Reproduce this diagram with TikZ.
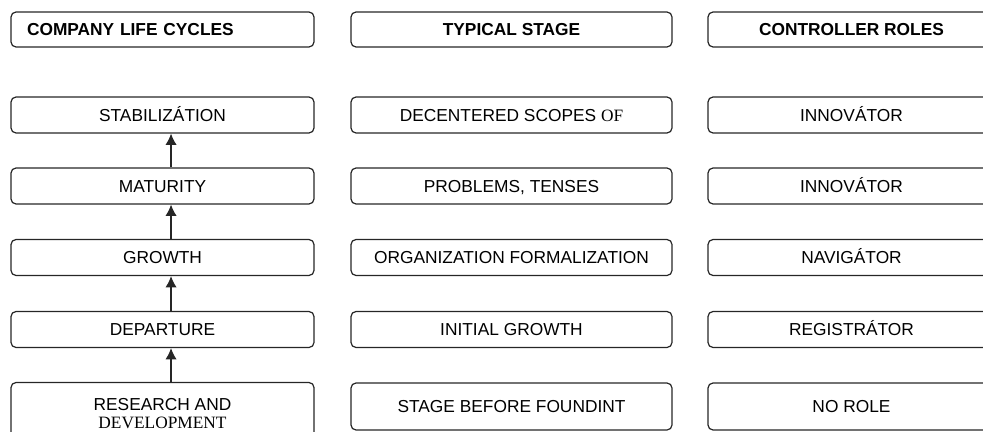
\documentclass[tikz,border=0pt]{standalone}
\usepackage{fontspec}
\setmainfont{Liberation Sans}
\newfontfamily\timesfont{Liberation Serif}
\usetikzlibrary{positioning, arrows.meta}

\begin{document}
\begin{tikzpicture}[x=0.75pt, y=-0.75pt,
  box/.style={draw=black!85, line width=0.9pt, rounded corners=3.75pt,
    minimum height=27pt, inner sep=0pt, align=center,
    text height=9.3pt, text depth=-1pt,
    font=\fontsize{13pt}{13.5pt}\selectfont},
  head/.style={box, minimum height=26.25pt, font=\fontsize{13pt}{13.5pt}\selectfont\bfseries},
  colA/.style={minimum width=227.25pt},
  colB/.style={minimum width=240.75pt},
  colC/.style={minimum width=215.25pt},
  up/.style={draw=black!85, line width=0.9pt, -{Latex[length=8.5pt, width=8.5pt]}}]
\clip (0,0) rectangle (983,432);

% headers
\node[head, text width=203.25pt, inner xsep=12pt, align=left] at (162.5,29.5) (headA) {COMPANY LIFE CYCLES} ;
\node[head, colB] at (511.5,29.5) (headB) {TYPICAL STAGE} ;
\node[head, colC] at (851.5,29.5) (headC) {CONTROLLER ROLES} ;

% life cycles
\node[box, colA] at (162.5,115) (cycle5) {STABILIZÁTION} ;
\node[box, colA] at (162.5,186) (cycle4) {MATURITY} ;
\node[box, colA] at (162.5,257.5) (cycle3) {GROWTH} ;
\node[box, colA] at (162.5,329.5) (cycle2) {DEPARTURE} ;
\node[box, colA, minimum height=46.5pt, text height=, text depth=] at (162.5,413.5) (cycle1) {RESEARCH AND\\ {\timesfont DEVELOPMENT}} ;

% stages
\node[box, colB] at (511.5,115) (stage5) {DECENTERED SCOPES {\timesfont OF}} ;
\node[box, colB] at (511.5,186) (stage4) {PROBLEMS, TENSES} ;
\node[box, colB] at (511.5,257.5) (stage3) {ORGANIZATION FORMALIZATION} ;
\node[box, colB] at (511.5,329.5) (stage2) {INITIAL GROWTH} ;
\node[box, colB, minimum height=35.25pt] at (511.5,406.5) (stage1) {STAGE BEFORE FOUNDINT} ;

% roles
\node[box, colC] at (851.5,115) (role5) {INNOVÁTOR} ;
\node[box, colC] at (851.5,186) (role4) {INNOVÁTOR} ;
\node[box, colC] at (851.5,257.5) (role3) {NAVIGÁTOR} ;
\node[box, colC] at (851.5,329.5) (role2) {REGISTRÁTOR} ;
\node[box, colC, minimum height=35.25pt] at (851.5,406.5) (role1) {NO ROLE} ;

\draw[up] ([xshift=6.4pt]cycle1.north) -- ([xshift=6.4pt]cycle2.south) ;
\draw[up] ([xshift=6.4pt]cycle2.north) -- ([xshift=6.4pt]cycle3.south) ;
\draw[up] ([xshift=6.4pt]cycle3.north) -- ([xshift=6.4pt]cycle4.south) ;
\draw[up] ([xshift=6.4pt]cycle4.north) -- ([xshift=6.4pt]cycle5.south) ;
\end{tikzpicture}
\end{document}
